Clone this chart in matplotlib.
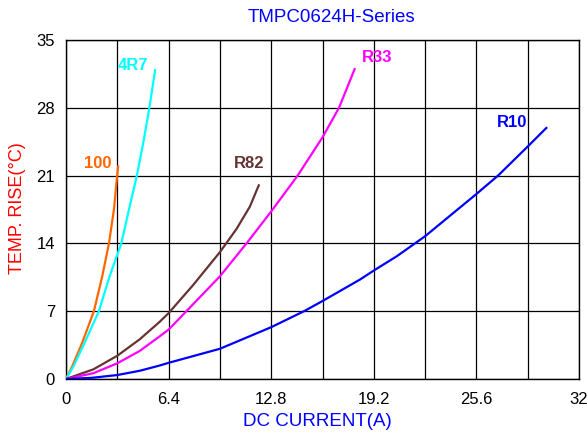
import numpy as np
import matplotlib
matplotlib.use("Agg")
import matplotlib.pyplot as plt

# Curvas (corriente A, subida de temperatura C)
x_100 = [0, 0.39, 1.01, 1.74, 2.26, 2.68, 2.99, 3.16, 3.26]
y_100 = [0, 1.32, 3.74, 7.0, 10.6, 14.0, 17.5, 20.5, 22.05]

x_4r7 = [0, 0.47, 1.16, 2.05, 2.72, 3.45, 3.93, 4.42, 4.82, 5.20, 5.57]
y_4r7 = [0, 1.32, 3.74, 7.0, 10.6, 14.0, 17.5, 21.0, 24.4, 28.0, 32.0]

x_r82 = [0, 1.71, 3.20, 4.60, 5.84, 6.40, 7.93, 9.60, 10.64, 11.47, 12.05]
y_r82 = [0, 1.0, 2.4, 4.1, 5.9, 6.8, 9.7, 13.1, 15.5, 17.8, 20.1]

x_r33 = [0, 1.71, 3.20, 4.60, 5.84, 6.40, 7.51, 9.60, 11.26, 12.80, 14.45, 16.00, 17.03, 18.03]
y_r33 = [0, 0.6, 1.62, 2.9, 4.4, 5.1, 7.0, 10.6, 14.0, 17.3, 21.0, 24.95, 28.0, 32.1]

x_r10 = [0, 1.60, 3.20, 4.60, 5.84, 6.40, 9.60, 12.80, 14.85, 16.00, 18.34, 19.20, 20.64, 22.40, 25.60, 26.95, 28.80, 30.01]
y_r10 = [0, 0.12, 0.41, 0.85, 1.39, 1.67, 3.12, 5.35, 7.0, 8.05, 10.27, 11.2, 12.68, 14.74, 19.1, 21.0, 24.0, 26.0]

series = [
    ("100", x_100, y_100, "#FF6600", (2.0, 22.3)),
    ("4R7", x_4r7, y_4r7, "#00FFFF", (4.19, 32.4)),
    ("R82", x_r82, y_r82, "#663333", (11.4, 22.2)),
    ("R33", x_r33, y_r33, "#FF00FF", (19.4, 33.2)),
    ("R10", x_r10, y_r10, "#0000FF", (27.8, 26.5)),
]

x_ticks = [0, 6.4, 12.8, 19.2, 25.6, 32]
x_tick_labels = ["0", "6.4", "12.8", "19.2", "25.6", "32"]
y_ticks = [0, 7, 14, 21, 28, 35]

plt.rcParams["font.family"] = ["Liberation Sans", "DejaVu Sans"]

fig = plt.figure(figsize=(5.87, 4.32), dpi=100)
ax = fig.add_axes([66 / 587, 53 / 432, 513 / 587, 339 / 432])

for nombre, xs, ys, color, pos in series:
    ax.plot(xs, ys, color=color, lw=1.6, solid_capstyle="butt",
            solid_joinstyle="round", zorder=3)
    ax.text(pos[0], pos[1], nombre, color=color, fontsize=12, fontweight="bold",
            ha="center", va="center", zorder=4)

ax.set_xlim(0, 32)
ax.set_ylim(0, 35)
ax.set_xticks(x_ticks)
ax.set_xticklabels(x_tick_labels)
ax.set_xticks(np.arange(3.2, 32, 6.4), minor=True)
ax.set_yticks(y_ticks)
ax.tick_params(axis="both", which="both", length=0, labelsize=12)
ax.tick_params(axis="x", pad=9)
ax.tick_params(axis="y", pad=8)
ax.grid(True, which="both", color="black", lw=0.9, zorder=1)
for s in ax.spines.values():
    s.set_color("black")
    s.set_linewidth(1.0)

fig.text(331.5 / 587, 1 - 17 / 432, "TMPC0624H-Series", color="#0000FF",
         fontsize=13.5, ha="center", va="center")
fig.text(317.5 / 587, 1 - 421 / 432, "DC CURRENT(A)", color="#0000FF",
         fontsize=13.5, ha="center", va="center")
fig.text(18 / 587, 1 - 208 / 432, "TEMP. RISE(°C)", color="#FF0000",
         fontsize=13, ha="center", va="center", rotation=90)

fig.savefig("out.png", dpi=100)
